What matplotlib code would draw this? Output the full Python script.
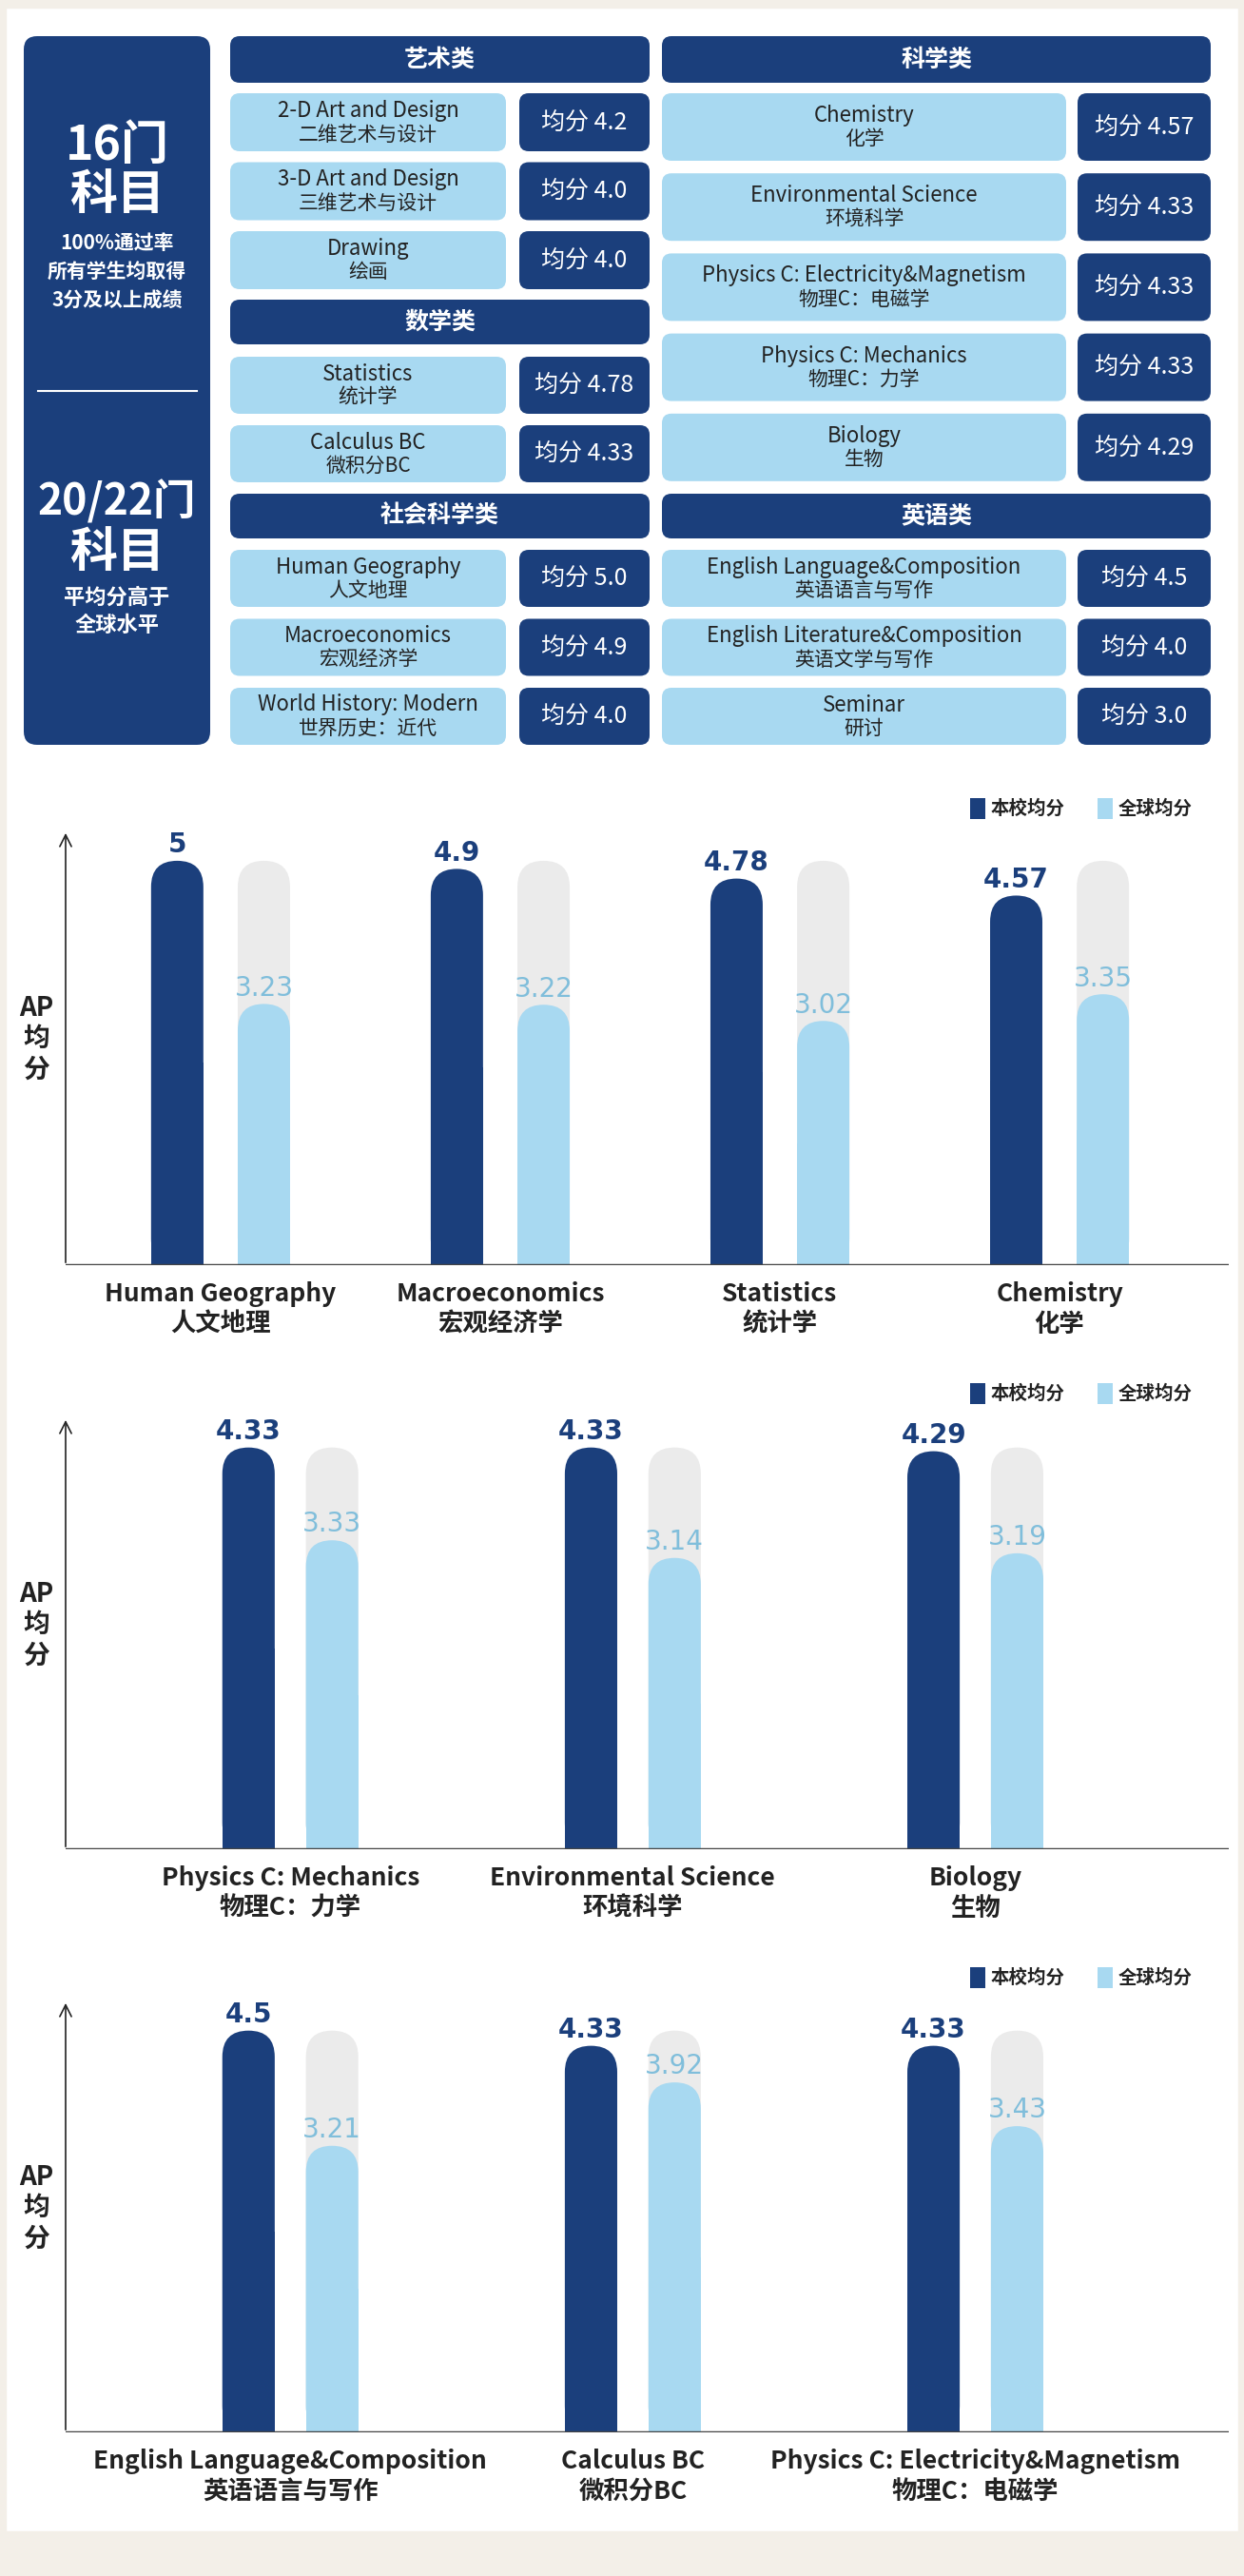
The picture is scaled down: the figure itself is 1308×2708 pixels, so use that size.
import matplotlib
matplotlib.use("Agg")
import matplotlib.pyplot as plt
from matplotlib.patches import FancyBboxPatch, Rectangle

plt.rcParams['font.family'] = ['Noto Sans CJK SC', 'DejaVu Sans']

W, H = 1308, 2708
NAVY = "#1b3f7c"
LIGHT = "#a8d9f1"
GREY = "#ebebeb"
LIGHT_TXT = "#80bedb"

# -----------------------------
# data: summary panel
# -----------------------------
art_en = ["2-D Art and Design", "3-D Art and Design", "Drawing"]
art_cn = ["二维艺术与设计", "三维艺术与设计", "绘画"]
art_scores = ["4.2", "4.0", "4.0"]

math_en = ["Statistics", "Calculus BC"]
math_cn = ["统计学", "微积分BC"]
math_scores = ["4.78", "4.33"]

social_en = ["Human Geography", "Macroeconomics", "World History: Modern"]
social_cn = ["人文地理", "宏观经济学", "世界历史：近代"]
social_scores = ["5.0", "4.9", "4.0"]

sci_en = ["Chemistry", "Environmental Science", "Physics C: Electricity&Magnetism",
          "Physics C: Mechanics", "Biology"]
sci_cn = ["化学", "环境科学", "物理C：电磁学", "物理C：力学", "生物"]
sci_scores = ["4.57", "4.33", "4.33", "4.33", "4.29"]

eng_en = ["English Language&Composition", "English Literature&Composition", "Seminar"]
eng_cn = ["英语语言与写作", "英语文学与写作", "研讨"]
eng_scores = ["4.5", "4.0", "3.0"]

# -----------------------------
# data: bar charts
# -----------------------------
c1_en = ["Human Geography", "Macroeconomics", "Statistics", "Chemistry"]
c1_cn = ["人文地理", "宏观经济学", "统计学", "化学"]
c1_school = [5, 4.9, 4.78, 4.57]
c1_global = [3.23, 3.22, 3.02, 3.35]

c2_en = ["Physics C: Mechanics", "Environmental Science", "Biology"]
c2_cn = ["物理C：力学", "环境科学", "生物"]
c2_school = [4.33, 4.33, 4.29]
c2_global = [3.33, 3.14, 3.19]

c3_en = ["English Language&Composition", "Calculus BC", "Physics C: Electricity&Magnetism"]
c3_cn = ["英语语言与写作", "微积分BC", "物理C：电磁学"]
c3_school = [4.5, 4.33, 4.33]
c3_global = [3.21, 3.92, 3.43]

legend_labels = ["本校均分", "全球均分"]

fig = plt.figure(figsize=(W / 100, H / 100), dpi=100)
fig.patch.set_facecolor("white")
bg = fig.add_axes([0, 0, 1, 1])
bg.set_xlim(0, W)
bg.set_ylim(H, 0)
bg.axis("off")

# beige frame
for r in [(0, 0, W, 8), (0, 2661, W, H - 2661), (0, 0, 6, H), (W - 6, 0, 6, H)]:
    bg.add_patch(Rectangle(r[:2], r[2], r[3], color="#f3efe8", zorder=0))


def rbox(x0, y0, x1, y1, color, r=10):
    bg.add_patch(FancyBboxPatch((x0, y0), x1 - x0, y1 - y0,
                                boxstyle=f"round,pad=0,rounding_size={r}",
                                color=color, lw=0, zorder=1))


def header(x0, x1, y0, y1, text):
    rbox(x0, y0, x1, y1, NAVY)
    bg.text((x0 + x1) / 2, (y0 + y1) / 2, text, color="white", fontsize=18,
            fontweight="bold", ha="center", va="center", zorder=2)


def item(x0, xm, xs, x1, y0, y1, en, cn, score):
    rbox(x0, y0, xm, y1, LIGHT)
    rbox(xs, y0, x1, y1, NAVY)
    yc = (y0 + y1) / 2
    bg.text((x0 + xm) / 2, yc - 12, en, fontsize=16, color="#222222",
            ha="center", va="center", zorder=2)
    bg.text((x0 + xm) / 2, yc + 13, cn, fontsize=15, color="#222222",
            ha="center", va="center", zorder=2)
    bg.text((xs + x1) / 2, yc, "均分 " + score, fontsize=18, color="white",
            ha="center", va="center", zorder=2)


# left summary block
rbox(25, 38, 221, 783, NAVY, r=14)
for y, t, fs in [(153, "16门", 36), (205, "科目", 36), (255, "100%通过率", 15),
                 (286, "所有学生均取得", 15), (316, "3分及以上成绩", 15),
                 (528, "20/22门", 32), (582, "科目", 36), (628, "平均分高于", 16),
                 (658, "全球水平", 16)]:
    bg.text(123, y, t, color="white", fontsize=fs, fontweight="bold",
            ha="center", va="center", zorder=2)
bg.plot([40, 207], [411, 411], color="white", lw=1.5, zorder=2)

# left column
LX0, LXM, LXS, LX1 = 242, 532, 546, 683
header(LX0, LX1, 38, 87, "艺术类")
for i, (en, cn, s) in enumerate(zip(art_en, art_cn, art_scores)):
    item(LX0, LXM, LXS, LX1, 98 + i * 72.5, 159 + i * 72.5, en, cn, s)
header(LX0, LX1, 315, 362, "数学类")
for i, (en, cn, s) in enumerate(zip(math_en, math_cn, math_scores)):
    item(LX0, LXM, LXS, LX1, 375 + i * 72, 435 + i * 72, en, cn, s)
header(LX0, LX1, 519, 566, "社会科学类")
for i, (en, cn, s) in enumerate(zip(social_en, social_cn, social_scores)):
    item(LX0, LXM, LXS, LX1, 578 + i * 72.5, 638 + i * 72.5, en, cn, s)

# right column
RX0, RXM, RXS, RX1 = 696, 1121, 1133, 1273
header(RX0, RX1, 38, 87, "科学类")
for i, (en, cn, s) in enumerate(zip(sci_en, sci_cn, sci_scores)):
    item(RX0, RXM, RXS, RX1, 98 + i * 84.2, 169 + i * 84.2, en, cn, s)
header(RX0, RX1, 519, 566, "英语类")
for i, (en, cn, s) in enumerate(zip(eng_en, eng_cn, eng_scores)):
    item(RX0, RXM, RXS, RX1, 578 + i * 72.5, 638 + i * 72.5, en, cn, s)


# -----------------------------
# bar charts
# -----------------------------
def rounded_bar(ax, x, h, w, color, aspect, z):
    ax.add_patch(FancyBboxPatch((x - w / 2, 0), w, h,
                                boxstyle=f"round,pad=0,rounding_size={w / 2}",
                                mutation_aspect=aspect, color=color, lw=0, zorder=z))
    ax.add_patch(Rectangle((x - w / 2, 0), w, h / 2, color=color, lw=0, zorder=z))


def bar_chart(top, bottom, xlim, off, w, en, cn, school, glob, legend_y):
    ax = fig.add_axes([69 / W, 1 - bottom / H, (1292 - 69) / W, (bottom - top) / H])
    vmax = max(school)
    ax.set_xlim(*xlim)
    ax.set_ylim(0, vmax * 1.075)
    x_per_px = (xlim[1] - xlim[0]) / (1292 - 69)
    y_per_px = vmax * 1.075 / (bottom - top)
    aspect = y_per_px / x_per_px
    for i, (s, g) in enumerate(zip(school, glob)):
        rounded_bar(ax, i - off, s, w, NAVY, aspect, 3)
        rounded_bar(ax, i + off, vmax, w, GREY, aspect, 2)
        rounded_bar(ax, i + off, g, w, LIGHT, aspect, 3)
        ax.text(i - off, s + 0.03, f"{s:g}", color=NAVY, fontsize=20,
                fontweight="bold", ha="center", va="bottom", family="DejaVu Sans")
        ax.text(i + off, g + 0.03, f"{g:g}", color=LIGHT_TXT, fontsize=20,
                ha="center", va="bottom", family="DejaVu Sans")
    for sp in ax.spines.values():
        sp.set_visible(False)
    ax.axhline(0, color="#444444", lw=2.5, zorder=4)
    ax.annotate("", xy=(0, 1), xytext=(0, 0), xycoords="axes fraction",
                arrowprops=dict(arrowstyle="->", lw=1.2, color="#222222",
                                mutation_scale=22))
    ax.set_yticks([])
    ax.set_xticks(range(len(en)))
    ax.set_xticklabels([f"{a}\n{b}" for a, b in zip(en, cn)], fontsize=19,
                       fontweight="bold", color="#222222", linespacing=1.25)
    ax.tick_params(axis="x", length=0, pad=12)
    ax.patch.set_alpha(0)

    mid = top + (bottom - top) * 0.48
    bg.text(38, mid, "AP\n均\n分", fontsize=20, fontweight="bold", color="#222222",
            ha="center", va="center", linespacing=1.2)
    for (x, col, lab) in [(1020, NAVY, legend_labels[0]), (1154, LIGHT, legend_labels[1])]:
        bg.add_patch(Rectangle((x, legend_y - 11), 16, 22, color=col, lw=0))
        bg.text(x + 22, legend_y, lab, fontsize=14, fontweight="bold",
                color="#222222", ha="left", va="center")


bar_chart(873, 1330, (-0.554, 3.605), 0.155, 0.187, c1_en, c1_cn, c1_school, c1_global, 850)
bar_chart(1490, 1944, (-0.656, 2.74), 0.122, 0.153, c2_en, c2_cn, c2_school, c2_global, 1465)
bar_chart(2103, 2557, (-0.656, 2.74), 0.122, 0.153, c3_en, c3_cn, c3_school, c3_global, 2079)

fig.savefig("out.png", dpi=100, facecolor=fig.get_facecolor())
